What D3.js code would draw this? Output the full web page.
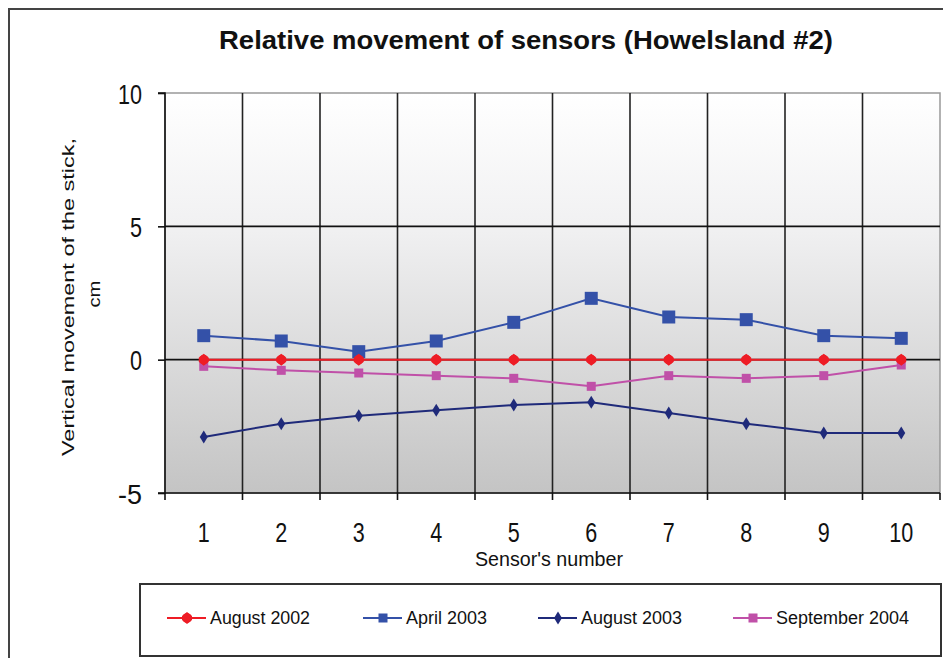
<!DOCTYPE html>
<html>
<head>
<meta charset="utf-8">
<script src="https://cdn.jsdelivr.net/npm/d3@7"></script>
<style>
  html, body { margin: 0; padding: 0; background: #fff; }
  svg { display: block; }
  text { font-family: "Liberation Sans", Arial, sans-serif; fill: #111; }
</style>
</head>
<body>
<svg id="chart" width="943" height="658"></svg>
<script>
// Sensor numbers along the x axis
const sensors = [1, 2, 3, 4, 5, 6, 7, 8, 9, 10];

// Vertical movement of each sensor (cm), one array per survey
const august2002    = [0, 0, 0, 0, 0, 0, 0, 0, 0, 0];
const april2003     = [0.9, 0.7, 0.3, 0.7, 1.4, 2.3, 1.6, 1.5, 0.9, 0.8];
const august2003    = [-2.9, -2.4, -2.1, -1.9, -1.7, -1.6, -2.0, -2.4, -2.75, -2.75];
const september2004 = [-0.25, -0.4, -0.5, -0.6, -0.7, -1.0, -0.6, -0.7, -0.6, -0.2];

const yTicks = [10, 5, 0, -5];

const seriesNames = ["August 2002", "April 2003", "August 2003", "September 2004"];
const seriesValues = [august2002, april2003, august2003, september2004];
const seriesColors = ["#ee1c25", "#3451a8", "#1f2a7a", "#c050a8"];
const seriesMarkers = ["circle", "bigSquare", "diamond", "smallSquare"];

const svg = d3.select("#chart");

// Narrow, tall labels: fit each string to a width proportional to its characters
const narrow = (s, per) => String(s).length * per;

// Outer chart frame
svg.append("rect")
  .attr("x", 9).attr("y", 9).attr("width", 960).attr("height", 700)
  .attr("fill", "none").attr("stroke", "#444").attr("stroke-width", 2);

// Title
svg.append("text")
  .attr("x", 526).attr("y", 49)
  .attr("text-anchor", "middle")
  .attr("font-size", 26).attr("font-weight", "bold")
  .attr("textLength", 614).attr("lengthAdjust", "spacingAndGlyphs")
  .text("Relative movement of sensors (Howelsland #2)");

const plot = { left: 165, right: 940, top: 93, bottom: 493 };

const x = d3.scaleBand().domain(sensors).range([plot.left, plot.right]).padding(0);
const y = d3.scaleLinear().domain([-5, 10]).range([plot.bottom, plot.top]);

// Plot area background gradient
const defs = svg.append("defs");
const grad = defs.append("linearGradient")
  .attr("id", "plotBg").attr("x1", 0).attr("y1", 0).attr("x2", 0).attr("y2", 1);
grad.append("stop").attr("offset", "0").attr("stop-color", "#ffffff");
grad.append("stop").attr("offset", "0.33").attr("stop-color", "#f1f1f2");
grad.append("stop").attr("offset", "1").attr("stop-color", "#c4c4c4");

svg.append("rect")
  .attr("x", plot.left).attr("y", plot.top)
  .attr("width", plot.right - plot.left).attr("height", plot.bottom - plot.top)
  .attr("fill", "url(#plotBg)")
  .attr("stroke", "#999").attr("stroke-width", 1.5);

// Vertical gridlines at category boundaries
const boundaries = sensors.slice(1).map(s => x(s));
svg.append("g").selectAll("line").data(boundaries).join("line")
  .attr("x1", d => d).attr("x2", d => d)
  .attr("y1", plot.top).attr("y2", plot.bottom)
  .attr("stroke", "#222").attr("stroke-width", 1.6);

// Horizontal gridlines
svg.append("g").selectAll("line").data([5, 0]).join("line")
  .attr("x1", plot.left).attr("x2", plot.right)
  .attr("y1", d => y(d)).attr("y2", d => y(d))
  .attr("stroke", "#111").attr("stroke-width", 1.6);

// Y axis
const yAxis = d3.axisLeft(y).tickValues(yTicks).tickSize(7).tickPadding(16).tickFormat(d => String(d));
const gy = svg.append("g").attr("transform", `translate(${plot.left},0)`).call(yAxis);
gy.select(".domain").attr("stroke", "#111").attr("stroke-width", 1.6).attr("d", `M-7,${plot.top}H0V${plot.bottom}H-7`);
gy.selectAll(".tick line").attr("stroke", "#111").attr("stroke-width", 1.6);
gy.selectAll(".tick text").attr("font-size", 28).attr("fill", "#111").attr("dy", "0.36em")
  .attr("textLength", d => narrow(d, 12)).attr("lengthAdjust", "spacingAndGlyphs")
  .style("font-family", "'Liberation Sans', Arial, sans-serif");

// X axis
const xAxis = d3.axisBottom(x).tickSize(0).tickPadding(28);
const gx = svg.append("g").attr("transform", `translate(0,${plot.bottom})`).call(xAxis);
gx.select(".domain").attr("stroke", "#111").attr("stroke-width", 1.6).attr("d", `M${plot.left},0H${plot.right}`);
gx.selectAll(".tick text").attr("font-size", 27).attr("fill", "#111").attr("dy", "0.36em")
  .attr("textLength", d => narrow(d, 12)).attr("lengthAdjust", "spacingAndGlyphs")
  .style("font-family", "'Liberation Sans', Arial, sans-serif");
gx.selectAll(".tick text").attr("y", 39);
// Tick marks at category boundaries
gx.append("g").selectAll("line").data([plot.left, ...boundaries, plot.right]).join("line")
  .attr("x1", d => d).attr("x2", d => d).attr("y1", 0).attr("y2", 7)
  .attr("stroke", "#111").attr("stroke-width", 1.6);

// Axis titles
svg.append("text")
  .attr("x", 549).attr("y", 566)
  .attr("text-anchor", "middle").attr("font-size", 20)
  .attr("textLength", 148).attr("lengthAdjust", "spacingAndGlyphs")
  .text("Sensor's number");

const yTitle = svg.append("text")
  .attr("transform", "rotate(-90)")
  .attr("text-anchor", "middle").attr("font-size", 17);
yTitle.append("tspan").attr("x", -297).attr("y", 74)
  .attr("textLength", 318).attr("lengthAdjust", "spacingAndGlyphs")
  .text("Vertical movement of the stick,");
yTitle.append("tspan").attr("x", -294).attr("y", 100)
  .attr("textLength", 27).attr("lengthAdjust", "spacingAndGlyphs")
  .text("cm");

// Marker drawing
function drawMarker(sel, kind, color) {
  if (kind === "circle") {
    sel.append("path").attr("d", "M0,-6 L5,-2 L5,2 L0,6 L-5,2 L-5,-2 Z").attr("fill", color);
    sel.append("circle").attr("r", 4.8).attr("fill", color);
  } else if (kind === "bigSquare") {
    sel.append("rect").attr("x", -6.5).attr("y", -6.5).attr("width", 13).attr("height", 13).attr("fill", color);
  } else if (kind === "diamond") {
    sel.append("path").attr("d", "M0,-6.5 L4,0 L0,6.5 L-4,0 Z").attr("fill", color);
  } else {
    sel.append("rect").attr("x", -4.5).attr("y", -4.5).attr("width", 9).attr("height", 9).attr("fill", color);
  }
}

const cx = s => x(s) + x.bandwidth() / 2;
const line = d3.line().x(d => cx(d.s)).y(d => y(d.v));

// Draw series back to front so the red baseline sits above the others
const order = [1, 2, 3, 0];
order.forEach(i => {
  const pts = sensors.map((s, k) => ({ s, v: seriesValues[i][k] }));
  const g = svg.append("g");
  g.append("path").datum(pts)
    .attr("d", line).attr("fill", "none")
    .attr("stroke", seriesColors[i]).attr("stroke-width", 2);
  g.selectAll("g.m").data(pts).join("g").attr("class", "m")
    .attr("transform", d => `translate(${cx(d.s)},${y(d.v)})`)
    .each(function () { drawMarker(d3.select(this), seriesMarkers[i], seriesColors[i]); });
});

// Legend
svg.append("rect")
  .attr("x", 140).attr("y", 584).attr("width", 801).attr("height", 72)
  .attr("fill", "#fff").attr("stroke", "#333").attr("stroke-width", 2);

const legendX = [167, 363, 538, 733];
const legendTextW = [100, 81, 101, 133];
seriesNames.forEach((name, i) => {
  const g = svg.append("g").attr("transform", `translate(${legendX[i]},618)`);
  g.append("line").attr("x1", 0).attr("x2", 39).attr("y1", 0).attr("y2", 0)
    .attr("stroke", seriesColors[i]).attr("stroke-width", 2);
  const m = g.append("g").attr("transform", "translate(20,0)");
  drawMarker(m, seriesMarkers[i] === "bigSquare" ? "smallSquare" : seriesMarkers[i], seriesColors[i]);
  g.append("text").attr("x", 43).attr("y", 6).attr("font-size", 18)
    .attr("textLength", legendTextW[i]).attr("lengthAdjust", "spacingAndGlyphs")
    .text(name);
});
</script>
</body>
</html>
